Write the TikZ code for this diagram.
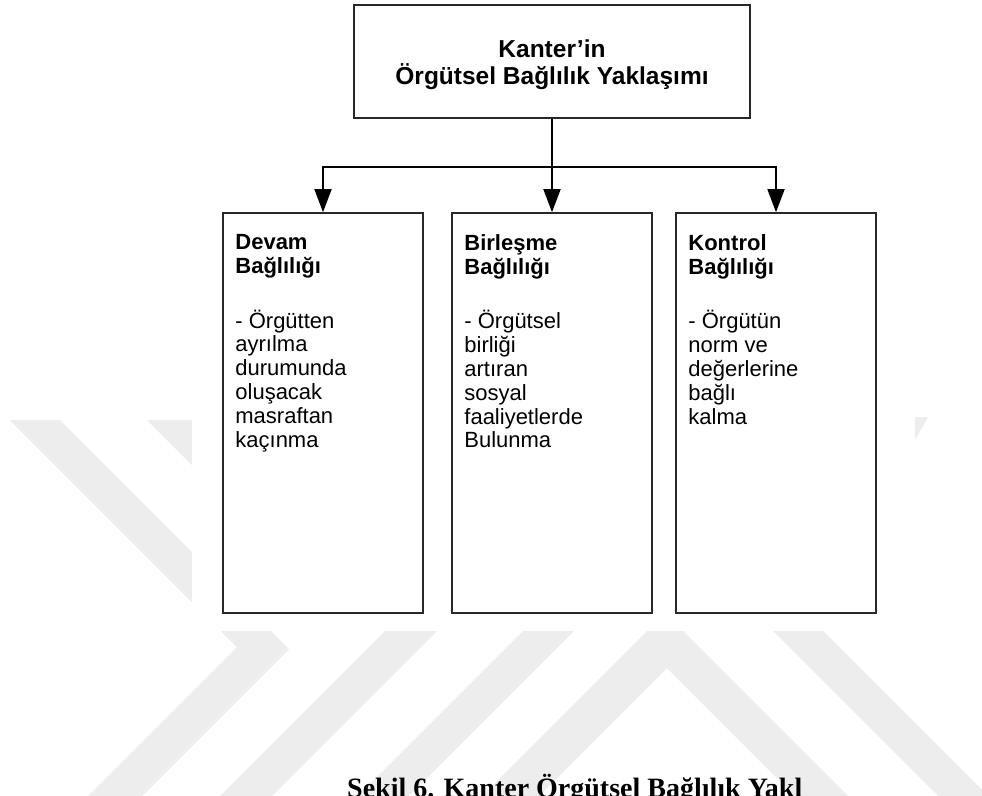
\documentclass[tikz,border=0pt]{standalone}
\usepackage{fontspec}
\setmainfont{Liberation Sans}
\newfontfamily\captionserif{Liberation Serif}
\usetikzlibrary{arrows.meta}

\definecolor{wmgray}{RGB}{237,237,237}
\definecolor{frame}{RGB}{40,40,40}

\begin{document}
\begin{tikzpicture}[x=1pt,y=-1pt,
  framebox/.style={draw=frame, line width=1.6pt, fill=white, inner sep=0pt},
  boxtext/.style={anchor=north west, inner sep=0pt, align=left,
    font=\fontsize{22}{23.8}\selectfont},
  link/.style={draw=black, line width=1.6pt},
  arrowlink/.style={link, -{Triangle[length=23pt,width=17pt]}},
  wm/.style={fill=wmgray}]

\useasboundingbox (0,0) rectangle (982,795);
\fill[white] (0,0) rectangle (982,795);

% light chevron watermark behind the figure
\fill[wm] (10,420) -- (60,420) -- (289,649) -- (138,800) -- (84,800) -- (237,647) -- cycle;
\fill[wm] (147,420) -- (199,420) -- (260,481) -- (208,481) -- cycle;
\fill[wm] (416,600) -- (468,600) -- (268,800) -- (216,800) -- cycle;
\fill[wm] (554,600) -- (605,600) -- (405,800) -- (354,800) -- cycle;
\fill[wm] (478,800) -- (665,613) -- (852,800) -- (799,800) -- (667,668) -- (535,800) -- cycle;
\fill[wm] (742,600) -- (792,600) -- (992,800) -- (942,800) -- cycle;
\fill[wm] (915,417) -- (928,417) -- (915,440) -- cycle;

% white sheet of the figure itself
\fill[white] (192,0) rectangle (915,631);

% boxes
\node[framebox, minimum width=396pt, minimum height=113pt] (top) at (552,61.5) {};
\node[align=center, inner sep=0pt, font=\bfseries\fontsize{24.5}{27}\selectfont]
  (toptext) at (552,65) {Kanter’in\\Örgütsel Bağlılık Yaklaşımı};

\node[framebox, minimum width=200pt, minimum height=400pt] (b1) at (323,413) {};
\node[framebox, minimum width=200pt, minimum height=400pt] (b2) at (552,413) {};
\node[framebox, minimum width=200pt, minimum height=400pt] (b3) at (776,413) {};

\node[boxtext] (t1) at ([xshift=13pt,yshift=-22pt]b1.north west)
  {\textbf{Devam}\\\textbf{Bağlılığı}\\[31pt]- Örgütten\\ayrılma\\durumunda\\oluşacak\\masraftan\\kaçınma};
\node[boxtext] (t2) at ([xshift=13pt,yshift=-22pt]b2.north west)
  {\textbf{Birleşme}\\\textbf{Bağlılığı}\\[31pt]- Örgütsel\\birliği\\artıran\\sosyal\\faaliyetlerde\\Bulunma};
\node[boxtext] (t3) at ([xshift=13pt,yshift=-22pt]b3.north west)
  {\textbf{Kontrol}\\\textbf{Bağlılığı}\\[31pt]- Örgütün\\norm ve\\değerlerine\\bağlı\\kalma};

% connectors
\coordinate (hub) at (552,167);
\draw[arrowlink] (top.south) -- (b2.north);
\draw[arrowlink] (hub) -| (b1.north);
\draw[arrowlink] (hub) -| (b3.north);

% caption line, cut by the lower edge
\node[anchor=base west, inner sep=0pt, font=\captionserif\bfseries\fontsize{28}{32}\selectfont]
  (cap) at (347,797) {Şekil 6. Kanter Örgütsel Bağlılık Yakl};
\end{tikzpicture}
\end{document}
